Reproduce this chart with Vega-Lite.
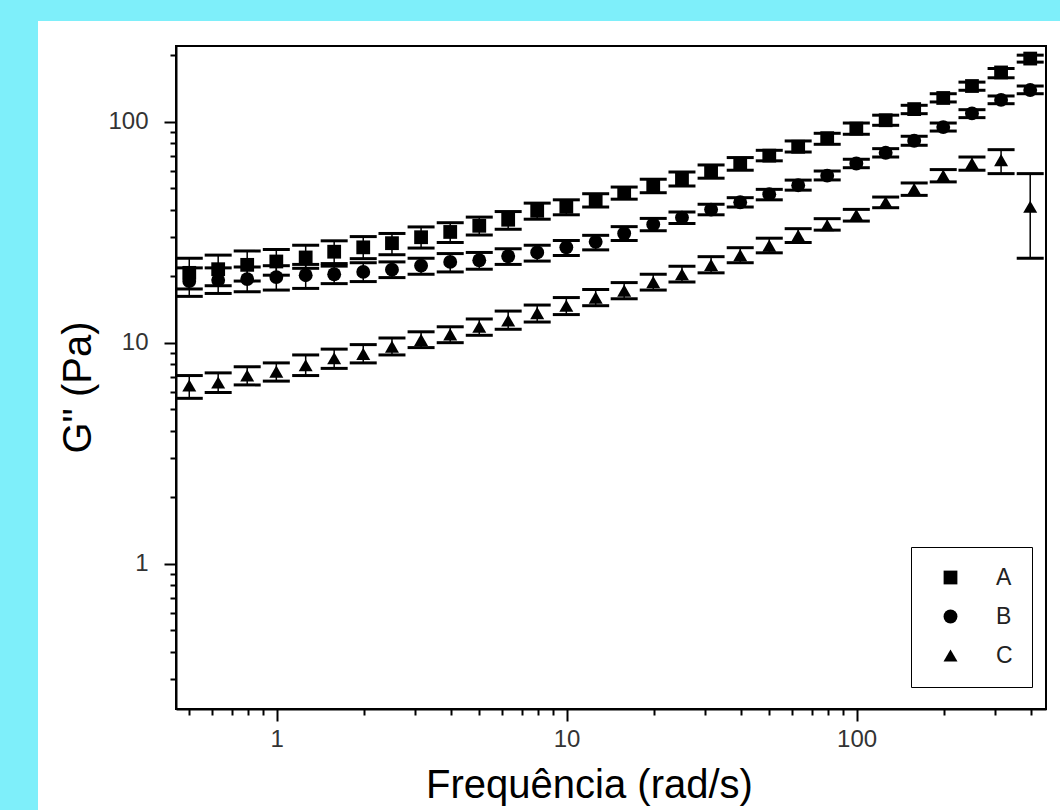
{
  "$schema": "https://vega.github.io/schema/vega-lite/v6.json",
  "background": "white",
  "padding": 0,
  "spacing": 0,
  "bounds": "flush",
  "config": {
    "view": {"stroke": null},
    "font": "Liberation Sans",
    "legend": {
      "title": null,
      "orient": "none",
      "legendX": 911,
      "legendY": 547,
      "padding": 19,
      "strokeColor": "black",
      "fillColor": "white",
      "labelFont": "Liberation Sans",
      "labelFontSize": 23,
      "labelColor": "#222222",
      "labelOffset": 34,
      "symbolOffset": 9,
      "rowPadding": 15,
      "symbolFillColor": "black",
      "symbolStrokeColor": "black"
    }
  },
  "vconcat": [
    {
      "width": 1060,
      "height": 21,
      "view": {"fill": "#7EEFFA", "stroke": null},
      "data": {"values": [{"k": 0}]},
      "mark": "text",
      "encoding": {"text": {"value": ""}}
    },
    {
      "spacing": 138,
      "bounds": "flush",
      "hconcat": [
        {
          "width": 38,
          "height": 789,
          "view": {"fill": "#7EEFFA", "stroke": null},
          "data": {"values": [{"k": 0}]},
          "mark": "text",
          "encoding": {"text": {"value": ""}}
        },
        {
          "spacing": 24,
          "bounds": "flush",
          "vconcat": [
            {
              "width": 870,
              "height": 1,
              "view": {"fill": "white", "stroke": null},
              "data": {"values": [{"k": 0}]},
              "mark": "text",
              "encoding": {"text": {"value": ""}}
            },
            {
              "width": 870,
              "height": 663,
              "view": {"stroke": "black", "strokeWidth": 2},
              "data": {"values": [
                {"freq": 0.5, "sample": "A", "G": 20.7, "lo": 17.5, "hi": 24.1},
                {"freq": 0.629, "sample": "A", "G": 21.5, "lo": 18.1, "hi": 24.9},
                {"freq": 0.792, "sample": "A", "G": 22.5, "lo": 19.0, "hi": 26.0},
                {"freq": 0.998, "sample": "A", "G": 23.3, "lo": 20.2, "hi": 26.4},
                {"freq": 1.26, "sample": "A", "G": 24.3, "lo": 21.7, "hi": 27.6},
                {"freq": 1.58, "sample": "A", "G": 25.8, "lo": 22.8, "hi": 28.9},
                {"freq": 1.99, "sample": "A", "G": 27.0, "lo": 24.0, "hi": 30.2},
                {"freq": 2.5, "sample": "A", "G": 28.2, "lo": 25.0, "hi": 31.2},
                {"freq": 3.15, "sample": "A", "G": 30.0, "lo": 26.8, "hi": 33.4},
                {"freq": 3.97, "sample": "A", "G": 31.7, "lo": 28.4, "hi": 34.9},
                {"freq": 5.0, "sample": "A", "G": 33.8, "lo": 30.7, "hi": 37.0},
                {"freq": 6.29, "sample": "A", "G": 36.0, "lo": 32.6, "hi": 39.2},
                {"freq": 7.92, "sample": "A", "G": 39.5, "lo": 36.2, "hi": 42.8},
                {"freq": 9.98, "sample": "A", "G": 41.2, "lo": 37.9, "hi": 44.3},
                {"freq": 12.6, "sample": "A", "G": 44.1, "lo": 41.1, "hi": 47.2},
                {"freq": 15.8, "sample": "A", "G": 47.5, "lo": 44.6, "hi": 50.6},
                {"freq": 19.9, "sample": "A", "G": 51.0, "lo": 47.7, "hi": 54.9},
                {"freq": 25.0, "sample": "A", "G": 55.0, "lo": 51.2, "hi": 59.2},
                {"freq": 31.5, "sample": "A", "G": 59.5, "lo": 55.5, "hi": 63.7},
                {"freq": 39.7, "sample": "A", "G": 64.5, "lo": 60.3, "hi": 68.8},
                {"freq": 50.0, "sample": "A", "G": 70.2, "lo": 66.5, "hi": 74.2},
                {"freq": 62.9, "sample": "A", "G": 77.0, "lo": 72.9, "hi": 81.8},
                {"freq": 79.2, "sample": "A", "G": 84.2, "lo": 79.0, "hi": 88.6},
                {"freq": 99.8, "sample": "A", "G": 93.0, "lo": 87.7, "hi": 98.6},
                {"freq": 126, "sample": "A", "G": 101.5, "lo": 96.3, "hi": 107},
                {"freq": 158, "sample": "A", "G": 114, "lo": 108.7, "hi": 118.6},
                {"freq": 199, "sample": "A", "G": 128, "lo": 122.8, "hi": 133.8},
                {"freq": 250, "sample": "A", "G": 145, "lo": 138.7, "hi": 151},
                {"freq": 315, "sample": "A", "G": 167, "lo": 158, "hi": 174},
                {"freq": 397, "sample": "A", "G": 193, "lo": 186, "hi": 200},
                {"freq": 0.5, "sample": "B", "G": 19.0, "lo": 16.2, "hi": 21.8},
                {"freq": 0.629, "sample": "B", "G": 19.2, "lo": 16.7, "hi": 21.8},
                {"freq": 0.792, "sample": "B", "G": 19.4, "lo": 17.0, "hi": 22.0},
                {"freq": 0.998, "sample": "B", "G": 19.8, "lo": 17.3, "hi": 22.3},
                {"freq": 1.26, "sample": "B", "G": 20.2, "lo": 17.6, "hi": 22.6},
                {"freq": 1.58, "sample": "B", "G": 20.4, "lo": 18.5, "hi": 22.2},
                {"freq": 1.99, "sample": "B", "G": 20.9, "lo": 18.9, "hi": 23.0},
                {"freq": 2.5, "sample": "B", "G": 21.4, "lo": 19.7, "hi": 23.2},
                {"freq": 3.15, "sample": "B", "G": 22.3, "lo": 20.4, "hi": 24.1},
                {"freq": 3.97, "sample": "B", "G": 23.2, "lo": 20.9, "hi": 25.3},
                {"freq": 5.0, "sample": "B", "G": 23.6, "lo": 21.5, "hi": 25.6},
                {"freq": 6.29, "sample": "B", "G": 24.6, "lo": 22.6, "hi": 26.6},
                {"freq": 7.92, "sample": "B", "G": 25.6, "lo": 23.4, "hi": 27.6},
                {"freq": 9.98, "sample": "B", "G": 27.0, "lo": 24.8, "hi": 29.0},
                {"freq": 12.6, "sample": "B", "G": 28.6, "lo": 26.3, "hi": 30.6},
                {"freq": 15.8, "sample": "B", "G": 31.2, "lo": 29.0, "hi": 33.5},
                {"freq": 19.9, "sample": "B", "G": 34.3, "lo": 32.1, "hi": 36.5},
                {"freq": 25.0, "sample": "B", "G": 36.8, "lo": 34.6, "hi": 39.0},
                {"freq": 31.5, "sample": "B", "G": 40.0, "lo": 37.9, "hi": 42.3},
                {"freq": 39.7, "sample": "B", "G": 43.2, "lo": 41.1, "hi": 45.3},
                {"freq": 50.0, "sample": "B", "G": 47.0, "lo": 44.3, "hi": 49.4},
                {"freq": 62.9, "sample": "B", "G": 51.6, "lo": 49.0, "hi": 54.4},
                {"freq": 79.2, "sample": "B", "G": 57.0, "lo": 54.5, "hi": 59.8},
                {"freq": 99.8, "sample": "B", "G": 64.7, "lo": 61.9, "hi": 67.6},
                {"freq": 126, "sample": "B", "G": 72.3, "lo": 69.2, "hi": 75.5},
                {"freq": 158, "sample": "B", "G": 82, "lo": 78.2, "hi": 85.9},
                {"freq": 199, "sample": "B", "G": 94.5, "lo": 90.7, "hi": 98.6},
                {"freq": 250, "sample": "B", "G": 109, "lo": 104.3, "hi": 113.3},
                {"freq": 315, "sample": "B", "G": 125.5, "lo": 120.6, "hi": 130.7},
                {"freq": 397, "sample": "B", "G": 139, "lo": 133.8, "hi": 145},
                {"freq": 0.5, "sample": "C", "G": 6.4, "lo": 5.6, "hi": 7.1},
                {"freq": 0.629, "sample": "C", "G": 6.6, "lo": 5.95, "hi": 7.3},
                {"freq": 0.792, "sample": "C", "G": 7.1, "lo": 6.44, "hi": 7.78},
                {"freq": 0.998, "sample": "C", "G": 7.4, "lo": 6.7, "hi": 8.1},
                {"freq": 1.26, "sample": "C", "G": 7.9, "lo": 7.1, "hi": 8.8},
                {"freq": 1.58, "sample": "C", "G": 8.5, "lo": 7.65, "hi": 9.35},
                {"freq": 1.99, "sample": "C", "G": 8.9, "lo": 8.1, "hi": 9.8},
                {"freq": 2.5, "sample": "C", "G": 9.6, "lo": 8.8, "hi": 10.5},
                {"freq": 3.15, "sample": "C", "G": 10.3, "lo": 9.5, "hi": 11.2},
                {"freq": 3.97, "sample": "C", "G": 10.9, "lo": 10.0, "hi": 11.8},
                {"freq": 5.0, "sample": "C", "G": 11.8, "lo": 10.8, "hi": 12.8},
                {"freq": 6.29, "sample": "C", "G": 12.6, "lo": 11.5, "hi": 13.9},
                {"freq": 7.92, "sample": "C", "G": 13.6, "lo": 12.4, "hi": 14.8},
                {"freq": 9.98, "sample": "C", "G": 14.7, "lo": 13.4, "hi": 16.0},
                {"freq": 12.6, "sample": "C", "G": 16.0, "lo": 14.7, "hi": 17.4},
                {"freq": 15.8, "sample": "C", "G": 17.2, "lo": 15.8, "hi": 18.7},
                {"freq": 19.9, "sample": "C", "G": 18.8, "lo": 17.3, "hi": 20.4},
                {"freq": 25.0, "sample": "C", "G": 20.4, "lo": 18.8, "hi": 22.2},
                {"freq": 31.5, "sample": "C", "G": 22.5, "lo": 20.7, "hi": 24.5},
                {"freq": 39.7, "sample": "C", "G": 24.9, "lo": 23.0, "hi": 26.9},
                {"freq": 50.0, "sample": "C", "G": 27.5, "lo": 25.5, "hi": 29.7},
                {"freq": 62.9, "sample": "C", "G": 30.5, "lo": 28.4, "hi": 32.8},
                {"freq": 79.2, "sample": "C", "G": 34.0, "lo": 32.3, "hi": 36.4},
                {"freq": 99.8, "sample": "C", "G": 37.8, "lo": 35.5, "hi": 40.1},
                {"freq": 126, "sample": "C", "G": 43.2, "lo": 40.8, "hi": 45.6},
                {"freq": 158, "sample": "C", "G": 49.6, "lo": 46.4, "hi": 52.8},
                {"freq": 199, "sample": "C", "G": 57.0, "lo": 53.4, "hi": 60.7},
                {"freq": 250, "sample": "C", "G": 64.7, "lo": 60.3, "hi": 69.2},
                {"freq": 315, "sample": "C", "G": 67.0, "lo": 58.2, "hi": 74.7},
                {"freq": 397, "sample": "C", "G": 41.2, "lo": 24.1, "hi": 58.2}
              ]},
              "encoding": {
                "x": {
                  "field": "freq",
                  "type": "quantitative",
                  "scale": {"type": "log", "domain": [0.45, 450], "nice": false},
                  "axis": {
                    "title": "Frequência (rad/s)",
                    "titleFont": "Liberation Sans",
                    "titleFontSize": 40,
                    "titleFontWeight": "normal",
                    "titleColor": "black",
                    "titlePadding": 14,
                    "titleX": 413,
                    "values": [0.5, 0.6, 0.7, 0.8, 0.9, 1, 2, 3, 4, 5, 6, 7, 8, 9, 10, 20, 30, 40, 50, 60, 70, 80, 90, 100, 200, 300, 400],
                    "labelExpr": "datum.value == 1 ? '1' : datum.value == 10 ? '10' : datum.value == 100 ? '100' : ''",
                    "labelFontSize": 24,
                    "labelColor": "#333333",
                    "labelPadding": 6,
                    "labelFlush": false,
                    "labelOverlap": false,
                    "tickSize": {"condition": {"test": "datum.value == 1 || datum.value == 10 || datum.value == 100", "value": 12}, "value": 6},
                    "tickColor": "black",
                    "tickWidth": 2,
                    "domainColor": "black",
                    "domainWidth": 2,
                    "grid": false
                  }
                },
                "y": {
                  "type": "quantitative",
                  "scale": {"type": "log", "domain": [0.22, 220], "nice": false},
                  "axis": {
                    "title": "G\" (Pa)",
                    "titleFont": "Liberation Sans",
                    "titleFontSize": 40,
                    "titleFontWeight": "normal",
                    "titleColor": "black",
                    "titlePadding": 9,
                    "titleY": 341,
                    "values": [0.3, 0.4, 0.5, 0.6, 0.7, 0.8, 0.9, 1, 2, 3, 4, 5, 6, 7, 8, 9, 10, 20, 30, 40, 50, 60, 70, 80, 90, 100, 200],
                    "labelExpr": "datum.value == 1 ? '1' : datum.value == 10 ? '10' : datum.value == 100 ? '100' : ''",
                    "labelFontSize": 24,
                    "labelColor": "#333333",
                    "labelPadding": 16,
                    "labelFlush": false,
                    "labelOverlap": false,
                    "tickSize": {"condition": {"test": "datum.value == 1 || datum.value == 10 || datum.value == 100", "value": 12}, "value": 6},
                    "tickColor": "black",
                    "tickWidth": 2,
                    "domainColor": "black",
                    "domainWidth": 2,
                    "grid": false
                  }
                }
              },
              "layer": [
                {
                  "mark": {"type": "rule", "strokeWidth": 1.5, "color": "black", "opacity": 1},
                  "encoding": {
                    "y": {"field": "lo", "type": "quantitative"},
                    "y2": {"field": "hi"}
                  }
                },
                {
                  "mark": {"type": "tick", "orient": "horizontal", "size": 27, "thickness": 3, "color": "black", "opacity": 1},
                  "encoding": {
                    "y": {"field": "lo", "type": "quantitative"}
                  }
                },
                {
                  "mark": {"type": "tick", "orient": "horizontal", "size": 27, "thickness": 3, "color": "black", "opacity": 1},
                  "encoding": {
                    "y": {"field": "hi", "type": "quantitative"}
                  }
                },
                {
                  "mark": {"type": "point", "filled": true, "opacity": 1, "color": "black"},
                  "encoding": {
                    "y": {"field": "G", "type": "quantitative"},
                    "shape": {
                      "field": "sample",
                      "type": "nominal",
                      "scale": {"domain": ["A", "B", "C"], "range": ["square", "circle", "triangle-up"]}
                    },
                    "size": {
                      "field": "sample",
                      "type": "nominal",
                      "scale": {"domain": ["A", "B", "C"], "range": [190, 196, 330]}
                    }
                  }
                }
              ]
            }
          ]
        }
      ]
    }
  ]
}
